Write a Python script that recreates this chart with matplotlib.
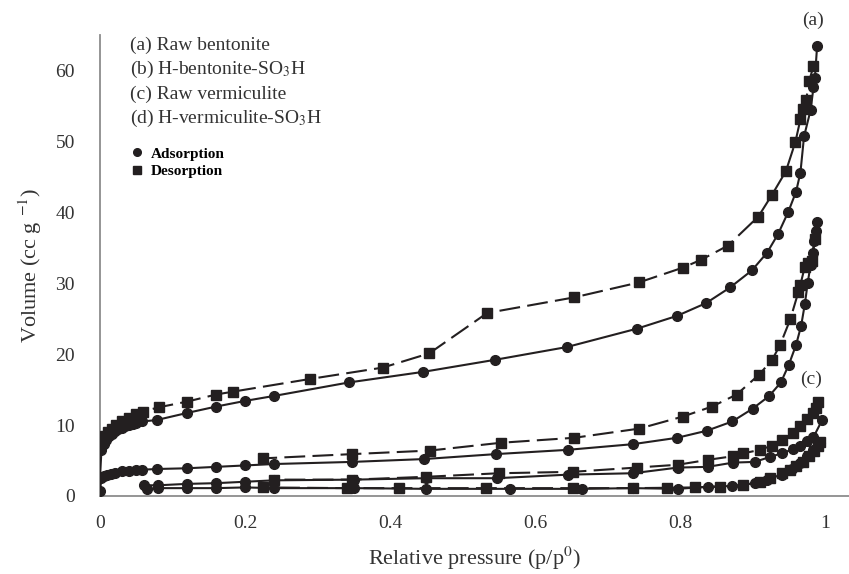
import matplotlib
matplotlib.use("Agg")
import matplotlib.pyplot as plt
from matplotlib.lines import Line2D

plt.rcParams["font.family"] = ["Liberation Serif", "DejaVu Serif"]
plt.rcParams["mathtext.fontset"] = "stix"

# (a) raw bentonite
a_ads_p = [0, 0.002, 0.005, 0.008, 0.012, 0.016, 0.02, 0.025, 0.03, 0.035, 0.04,
           0.045, 0.05, 0.058, 0.078, 0.12, 0.16, 0.2, 0.24, 0.343, 0.446, 0.545,
           0.644, 0.741, 0.796, 0.836, 0.869, 0.899, 0.92, 0.935, 0.949, 0.96,
           0.966, 0.971, 0.98, 0.984, 0.986, 0.989]
a_ads_v = [2.6, 6.5, 7.3, 7.9, 8.4, 8.8, 9.1, 9.4, 9.6, 9.8, 10.0,
           10.15, 10.3, 10.5, 10.7, 11.7, 12.6, 13.4, 14.1, 16.0, 17.5, 19.2,
           21.0, 23.6, 25.4, 27.2, 29.4, 31.8, 34.3, 36.9, 40.0, 42.9,
           45.6, 50.7, 54.4, 57.6, 59.0, 63.4]
a_des_p = [0.984, 0.978, 0.974, 0.970, 0.966, 0.959, 0.946, 0.927, 0.908, 0.866,
           0.829, 0.804, 0.743, 0.654, 0.534, 0.454, 0.39, 0.29, 0.183, 0.16,
           0.12, 0.081, 0.059, 0.05, 0.04, 0.03, 0.022, 0.016, 0.011, 0.007,
           0.004, 0.002]
a_des_v = [60.6, 58.5, 55.9, 54.5, 53.1, 49.9, 45.8, 42.5, 39.4, 35.3,
           33.3, 32.2, 30.1, 28.0, 25.8, 20.1, 18.1, 16.5, 14.7, 14.3,
           13.3, 12.5, 11.9, 11.5, 11.0, 10.5, 10.0, 9.5, 9.0, 8.5,
           8.0, 7.5]

# (b) H-bentonite-SO3H
b_ads_p = [0, 0.002, 0.005, 0.01, 0.015, 0.02, 0.03, 0.04, 0.05, 0.058, 0.079,
           0.12, 0.16, 0.2, 0.24, 0.348, 0.447, 0.546, 0.645, 0.735, 0.796,
           0.837, 0.872, 0.9, 0.923, 0.939, 0.95, 0.96, 0.967, 0.972, 0.976,
           0.98, 0.983, 0.985, 0.987, 0.989]
b_ads_v = [0.7, 2.5, 2.8, 3.0, 3.15, 3.3, 3.45, 3.55, 3.65, 3.7, 3.8,
           3.9, 4.1, 4.3, 4.5, 4.8, 5.2, 5.9, 6.5, 7.3, 8.2,
           9.2, 10.5, 12.3, 14.1, 16.0, 18.5, 21.3, 24.0, 27.0, 30.0,
           32.6, 34.3, 36.0, 37.4, 38.7]
b_des_p = [0.986, 0.982, 0.977, 0.972, 0.966, 0.963, 0.952, 0.938, 0.927, 0.909,
           0.878, 0.844, 0.804, 0.744, 0.654, 0.553, 0.455, 0.348, 0.225]
b_des_v = [36.2, 33.2, 32.9, 32.3, 29.8, 28.7, 24.9, 21.3, 19.2, 17.1,
           14.3, 12.6, 11.2, 9.5, 8.2, 7.5, 6.4, 5.9, 5.3]

# (c) raw vermiculite
c_ads_p = [0.06, 0.08, 0.12, 0.16, 0.2, 0.24, 0.35, 0.45, 0.547, 0.645, 0.735,
           0.797, 0.838, 0.873, 0.903, 0.924, 0.94, 0.956, 0.966, 0.975, 0.984,
           0.996]
c_ads_v = [1.5, 1.5, 1.7, 1.8, 2.0, 2.2, 2.3, 2.5, 2.5, 3.0, 3.2,
           4.0, 4.1, 4.7, 4.8, 5.5, 6.0, 6.6, 7.1, 7.7, 8.3,
           10.7]
c_des_p = [0.99, 0.987, 0.983, 0.975, 0.966, 0.956, 0.941, 0.927, 0.91, 0.887,
           0.873, 0.839, 0.797, 0.74, 0.652, 0.55, 0.45, 0.348, 0.24]
c_des_v = [13.3, 12.4, 11.7, 10.8, 9.8, 8.9, 7.9, 7.1, 6.5, 6.0,
           5.6, 5.1, 4.4, 4.0, 3.4, 3.2, 2.7, 2.3, 2.3]

# (d) H-vermiculite-SO3H
d_ads_p = [0.065, 0.08, 0.12, 0.16, 0.2, 0.24, 0.35, 0.45, 0.566, 0.665, 0.735,
           0.797, 0.838, 0.871, 0.903, 0.92, 0.94, 0.955, 0.966, 0.975, 0.983,
           0.99, 0.993]
d_ads_v = [1.0, 1.1, 1.1, 1.1, 1.2, 1.1, 1.1, 1.0, 1.0, 1.0, 1.1,
           1.0, 1.3, 1.4, 1.8, 2.3, 3.0, 3.8, 4.7, 5.6, 6.5,
           7.2, 7.5]
d_des_p = [0.993, 0.99, 0.985, 0.978, 0.97, 0.96, 0.951, 0.94, 0.924, 0.91,
           0.887, 0.855, 0.82, 0.782, 0.735, 0.652, 0.533, 0.412, 0.34, 0.225]
d_des_v = [7.6, 7.0, 6.4, 5.6, 4.8, 4.2, 3.7, 3.2, 2.5, 2.0,
           1.5, 1.3, 1.2, 1.15, 1.1, 1.1, 1.1, 1.1, 1.1, 1.2]

sample_labels = ["(a) Raw bentonite", "(b) H-bentonite-SO$_3$H",
                 "(c) Raw vermiculite", "(d) H-vermiculite-SO$_3$H"]

ink = "#231f20"
txt = "#333333"
dash = (0, (10, 3.5))

fig = plt.figure(figsize=(8.49, 5.74), dpi=100)
ax = fig.add_axes([0.1178, 0.136, 0.8822, 0.803])

series = [
    (a_ads_p, a_ads_v, a_des_p, a_des_v),
    (b_ads_p, b_ads_v, b_des_p, b_des_v),
    (c_ads_p, c_ads_v, c_des_p, c_des_v),
    (d_ads_p, d_ads_v, d_des_p, d_des_v),
]
for ads_p, ads_v, des_p, des_v in series:
    ax.plot(ads_p, ads_v, color=ink, lw=1.5, marker="o", ms=7, zorder=3)
    ax.plot(des_p, des_v, color=ink, lw=1.5, ls=dash, marker="s", ms=6.5, zorder=3)

ax.set_xlim(0, 1.033)
ax.set_ylim(0, 65)
ax.set_xticks([0, 0.2, 0.4, 0.6, 0.8, 1.0])
ax.set_xticklabels(["0", "0.2", "0.4", "0.6", "0.8", "1"])
ax.set_yticks(range(0, 61, 10))
ax.tick_params(length=0, labelsize=14, labelcolor=txt)
ax.tick_params(axis="y", pad=18)
ax.tick_params(axis="x", pad=14)

for side in ["top", "right"]:
    ax.spines[side].set_visible(False)
for side in ["left", "bottom"]:
    ax.spines[side].set_color("#8c8c8c")
    ax.spines[side].set_linewidth(1.3)

ax.set_ylabel("Volume (cc g $^{-1}$)", fontsize=16, color=txt, labelpad=8)
ax.set_xlabel("Relative pressure (p/p$^{0}$)", fontsize=16, color=txt, labelpad=9)

for i, lab in enumerate(sample_labels):
    fig.text(130 / 849, 1 - (45 + 24.5 * i) / 574, lab, fontsize=14, color=txt,
             va="center", ha="left")

handles = [
    Line2D([], [], color=ink, marker="o", ls="none", ms=5.5),
    Line2D([], [], color=ink, marker="s", ls="none", ms=5.5),
]
ax.legend(handles, ["Adsorption", "Desorption"], loc="upper left",
          bbox_to_anchor=(0.035, 0.77), frameon=False, handlelength=0.6,
          handletextpad=0.6, labelspacing=0.25, borderaxespad=0,
          prop={"weight": "bold", "size": 11})

ax.text(0.983, 67.1, "(a)", fontsize=14, color=txt, ha="center", va="center",
        clip_on=False)
ax.text(0.98, 16.4, "(c)", fontsize=14, color=txt, ha="center", va="center")

fig.savefig("out.png", dpi=100)
